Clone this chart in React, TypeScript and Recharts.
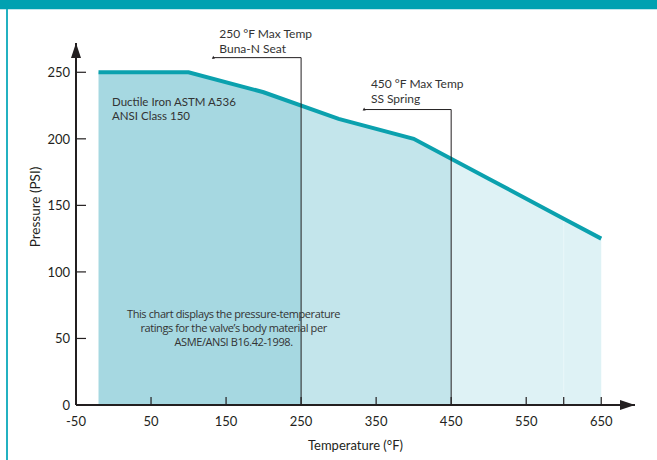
import React from 'react';
import {
  ComposedChart,
  Area,
  XAxis,
  YAxis,
  ReferenceLine,
  ReferenceDot,
  Label,
} from 'recharts';

// ── data ────────────────────────────────────────────────────────────
const temps = [-20, 100, 200, 300, 400, 500, 600, 650];
const pressures = [250, 250, 235, 215, 200, 170, 140, 125];
const xTicks = [-50, 50, 150, 250, 350, 450, 550, 600, 650];
const xTickLabels = ['-50', '50', '150', '250', '350', '450', '550', '', '650'];
const yTicks = [0, 50, 100, 150, 200, 250];
const zoneBreaks = [250, 450];
const zoneColors = ['#a6d8e1', '#c3e5eb', '#def2f5'];

const data = temps.map((t, i) => ({ temp: t, psi: pressures[i] }));

const X_DOMAIN: [number, number] = [-50, 695];
const Y_DOMAIN: [number, number] = [0, 272];

const INK = '#231f20';
const TEXT = '#333';
const TEAL = '#0ba1ae';
const FONT = 'Lato, "Open Sans", sans-serif';

// gradient stops, so the area gets three hard colour zones
const span = temps[temps.length - 1] - temps[0];
const stops = zoneBreaks.map((b) => (b - temps[0]) / span);

// ── ticks ───────────────────────────────────────────────────────────
const XTick = (p: any) => {
  const idx = xTicks.indexOf(p.payload.value);
  return (
    <g>
      <line x1={p.x} x2={p.x} y1={p.y} y2={p.y - 8} stroke={INK} strokeWidth={1.2} />
      <text x={p.x} y={p.y + 21} textAnchor="middle" fontSize={13} fontFamily={FONT} fill={INK}>
        {xTickLabels[idx]}
      </text>
    </g>
  );
};

const YTick = (p: any) => (
  <g>
    <line x1={p.x} x2={p.x + 10} y1={p.y} y2={p.y} stroke={INK} strokeWidth={1.2} />
    <text x={p.x - 6} y={p.y + 5} textAnchor="end" fontSize={13} fontFamily={FONT} fill={INK}>
      {p.payload.value}
    </text>
  </g>
);

// ── annotations ─────────────────────────────────────────────────────
const note = (
  lines: string[],
  opts: { anchor?: string; size?: number; gap?: number; font?: string; spacing?: number } = {}
) =>
  (p: any) => (
    <text
      x={p.cx}
      y={p.cy}
      textAnchor={(opts.anchor as any) || 'start'}
      fontSize={opts.size || 12}
      fontFamily={opts.font || FONT}
      letterSpacing={opts.spacing || 0}
      fill={TEXT}
    >
      {lines.map((l, i) => (
        <tspan key={i} x={p.cx} dy={i === 0 ? 0 : opts.gap || 15}>
          {l}
        </tspan>
      ))}
    </text>
  );

const upArrow = (p: any) => (
  <path d={`M${p.cx - 5},${p.cy + 15} L${p.cx},${p.cy} L${p.cx + 5},${p.cy + 15} Z`} fill={INK} />
);
const rightArrow = (p: any) => (
  <path d={`M${p.cx - 15},${p.cy - 5} L${p.cx},${p.cy} L${p.cx - 15},${p.cy + 5} Z`} fill={INK} />
);
const tinyMark = (p: any) => (
  <path d={`M${p.cx - 1.5},${p.cy + 1} L${p.cx},${p.cy - 2} L${p.cx + 1.5},${p.cy + 1} Z`} fill={INK} />
);

// max-temp callouts: [temp, top of leader (psi), left end of leader (temp)]
const callouts = [
  { t: 250, top: 261, left: 133 },
  { t: 450, top: 222, left: 334 },
];

export default function App() {
  return (
    <div
      style={{
        position: 'absolute',
        left: 0,
        top: 0,
        width: 657,
        height: 460,
        background: '#fff',
        overflow: 'hidden',
      }}
    >
      <div style={{ position: 'absolute', left: 0, top: 0, width: 657, height: 9, background: '#00a1b1' }} />
      <div style={{ position: 'absolute', left: 0, top: 9, width: 657, height: 1, background: '#bfe6ec' }} />
      <div style={{ position: 'absolute', left: 6, top: 9, width: 2, height: 451, background: '#23b1c1' }} />

      <ComposedChart
        width={657}
        height={460}
        data={data}
        margin={{ top: 43, right: 22, bottom: 5, left: 0 }}
        style={{ position: 'absolute', left: 0, top: 0 }}
      >
        <defs>
          <linearGradient id="zones" x1="0" y1="0" x2="1" y2="0">
            <stop offset={0} stopColor={zoneColors[0]} />
            <stop offset={stops[0]} stopColor={zoneColors[0]} />
            <stop offset={stops[0]} stopColor={zoneColors[1]} />
            <stop offset={stops[1]} stopColor={zoneColors[1]} />
            <stop offset={stops[1]} stopColor={zoneColors[2]} />
            <stop offset={1} stopColor={zoneColors[2]} />
          </linearGradient>
        </defs>

        <XAxis
          type="number"
          dataKey="temp"
          domain={X_DOMAIN}
          ticks={xTicks}
          interval={0}
          allowDataOverflow
          height={50}
          tickSize={0}
          tickMargin={0}
          tickLine={false}
          axisLine={{ stroke: INK, strokeWidth: 2 }}
          tick={<XTick />}
        >
          <Label
            content={(p: any) => (
              <text
                x={p.viewBox.x + p.viewBox.width / 2}
                y={p.viewBox.y + 45}
                textAnchor="middle"
                fontSize={13}
                fontFamily={FONT}
                fill={INK}
              >
                Temperature (°F)
              </text>
            )}
          />
        </XAxis>
        <YAxis
          type="number"
          domain={Y_DOMAIN}
          ticks={yTicks}
          interval={0}
          allowDataOverflow
          width={76}
          tickSize={0}
          tickMargin={0}
          tickLine={false}
          axisLine={{ stroke: INK, strokeWidth: 2 }}
          tick={<YTick />}
        >
          <Label
            content={(p: any) => {
              const cx = p.viewBox.x + 40;
              const cy = 207;
              return (
                <text
                  x={cx}
                  y={cy}
                  transform={`rotate(-90 ${cx} ${cy})`}
                  textAnchor="middle"
                  fontSize={13.5}
                  fontFamily={FONT}
                  fill={INK}
                >
                  Pressure (PSI)
                </text>
              );
            }}
          />
        </YAxis>

        <Area
          type="linear"
          dataKey="psi"
          stroke={TEAL}
          strokeWidth={4}
          fill="url(#zones)"
          fillOpacity={1}
          dot={false}
          activeDot={false}
          isAnimationActive={false}
        />

        {/* faint seam at 600 °F */}
        <ReferenceLine
          segment={[
            { x: 600, y: 0 },
            { x: 600, y: pressures[temps.indexOf(600)] - 2 },
          ]}
          stroke="#eaf7f9"
          strokeWidth={1}
        />

        {callouts.map((c) => (
          <ReferenceLine
            key={`v${c.t}`}
            segment={[
              { x: c.t, y: 0 },
              { x: c.t, y: c.top },
            ]}
            stroke={INK}
            strokeWidth={1}
            ifOverflow="visible"
          />
        ))}
        {callouts.map((c) => (
          <ReferenceLine
            key={`h${c.t}`}
            segment={[
              { x: c.left, y: c.top },
              { x: c.t, y: c.top },
            ]}
            stroke={INK}
            strokeWidth={1}
            ifOverflow="visible"
          />
        ))}
        {callouts.map((c) => (
          <ReferenceDot key={`m${c.t}`} x={c.left} y={c.top} r={0} shape={tinyMark} ifOverflow="visible" />
        ))}

        <ReferenceDot x={141} y={275.5} r={0} ifOverflow="visible" shape={note(['250 °F Max Temp', 'Buna-N Seat'])} />
        <ReferenceDot x={343} y={238} r={0} ifOverflow="visible" shape={note(['450 °F Max Temp', 'SS Spring'])} />
        <ReferenceDot
          x={-2}
          y={225}
          r={0}
          ifOverflow="visible"
          shape={note(['Ductile Iron ASTM A536', 'ANSI Class 150'], { size: 11.5, gap: 14 })}
        />
        <ReferenceDot
          x={160}
          y={65}
          r={0}
          ifOverflow="visible"
          shape={note(
            [
              'This chart displays the pressure-temperature',
              'ratings for the valve\u2019s body material per',
              'ASME/ANSI B16.42-1998.',
            ],
            { anchor: 'middle', size: 11, gap: 14, font: '"Open Sans", sans-serif', spacing: -0.4 }
          )}
        />

        {/* axis arrow heads */}
        <ReferenceDot x={X_DOMAIN[0]} y={Y_DOMAIN[1]} r={0} shape={upArrow} ifOverflow="visible" />
        <ReferenceDot x={X_DOMAIN[1]} y={Y_DOMAIN[0]} r={0} shape={rightArrow} ifOverflow="visible" />
      </ComposedChart>
    </div>
  );
}
